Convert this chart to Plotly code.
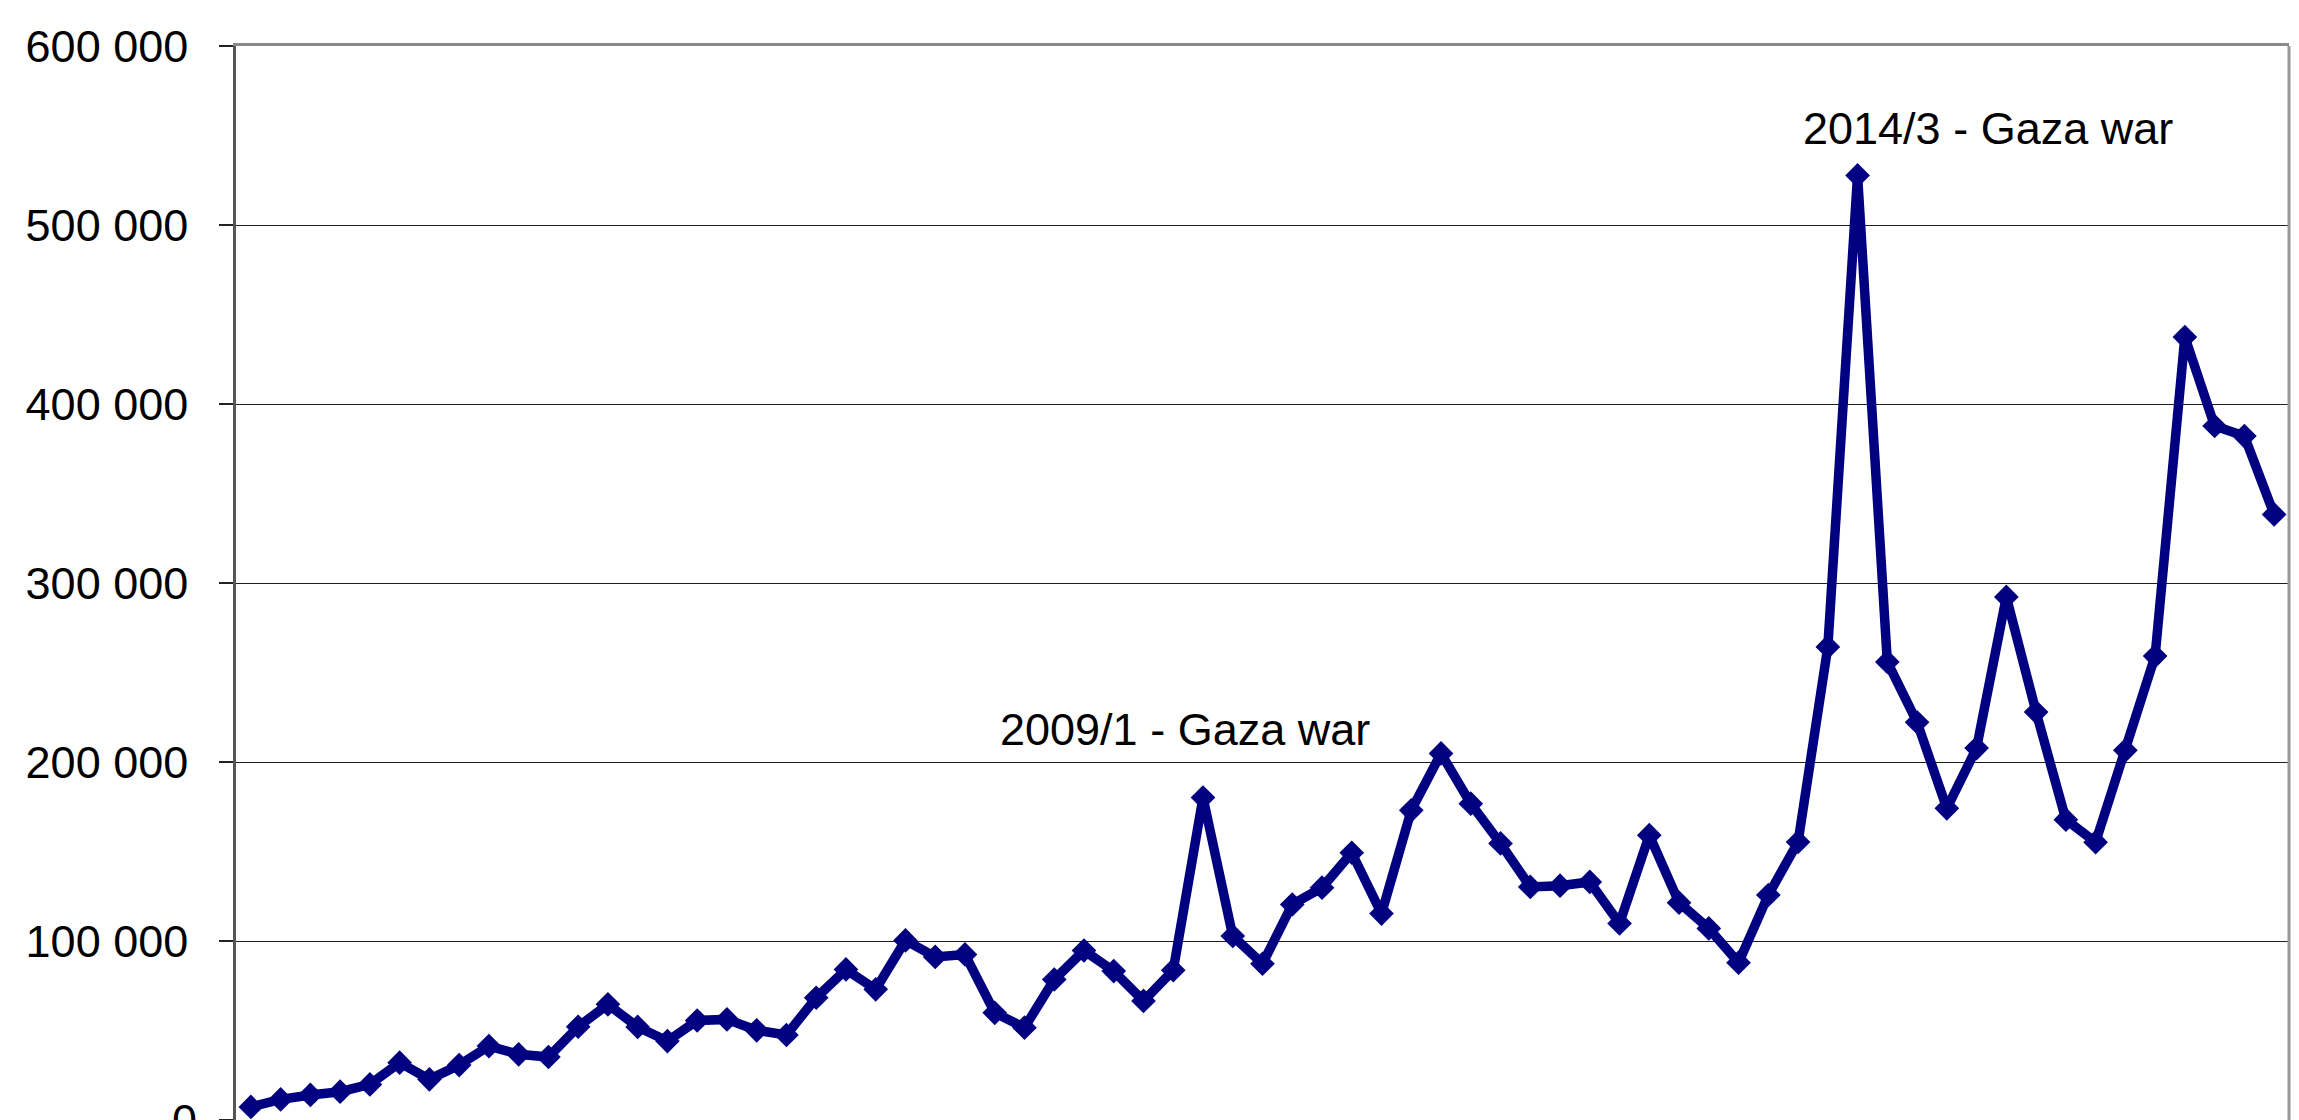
import plotly.graph_objects as go

quarters = [f"{y}/{q}" for y in range(2001, 2019) for q in range(1, 5)][:69]

values = [
    7300, 11500, 14000, 15800, 19900, 32000, 22700, 30700,
    41300, 36700, 35200, 52100, 64600, 52000, 44100, 55600,
    56200, 50100, 47500, 68300, 84100, 73000, 100300, 91100,
    92500, 59900, 51600, 78500, 94700, 83200, 66500, 83700,
    180100, 102800, 87300, 120400, 129800, 149300, 115300, 173000,
    204800, 176700, 154500, 130200, 130900, 133000, 109800, 159100,
    121400, 107000, 87900, 125700, 155300, 264300, 527700, 255900,
    222200, 174100, 207800, 292200, 227900, 167800, 155200, 206500,
    259200, 437400, 387700, 382100, 338300,
]

y_ticks = [0, 100000, 200000, 300000, 400000, 500000, 600000]
y_tick_text = ["0", "100 000", "200 000", "300 000", "400 000", "500 000", "600 000"]

notes = [
    ("2009/1 - Gaza war", 31.4, 218000),
    ("2014/3 - Gaza war", 58.4, 554000),
]

FONT = "Liberation Sans, Arial, sans-serif"
NAVY = "#000080"

fig = go.Figure()
fig.add_trace(go.Scatter(
    x=quarters, y=values, mode="lines+markers",
    line=dict(color=NAVY, width=9.5),
    marker=dict(symbol="diamond", size=19, color=NAVY),
    cliponaxis=False, showlegend=False,
))

for text, xv, yv in notes:
    fig.add_annotation(x=xv, y=yv, xref="x", yref="y", text=text,
                       showarrow=False, font=dict(size=45, color="black", family=FONT))

# bottom tick label "0" (partly cut off by the bottom edge, as in the original)
fig.add_annotation(x=0, xref="paper", y=y_ticks[0], yref="y", text=y_tick_text[0],
                   xanchor="right", yanchor="middle", xshift=-37, showarrow=False,
                   font=dict(size=45, color="black", family=FONT))

fig.add_shape(type="line", xref="paper", yref="paper", x0=1, x1=1, y0=0, y1=1,
              line=dict(color="#999999", width=3))

fig.update_layout(
    width=2299, height=1120,
    margin=dict(l=228, r=18, t=38, b=8),
    paper_bgcolor="white", plot_bgcolor="white",
    font=dict(family=FONT, size=45, color="black"),
    xaxis=dict(
        type="category", range=[-0.5, 68.5], showticklabels=False, ticks="",
        showgrid=False, showline=True, linecolor="#8a8a8a", linewidth=3, mirror=True,
        zeroline=False,
    ),
    yaxis=dict(
        range=[0, 600000], tickvals=y_ticks, ticktext=[""] + y_tick_text[1:],
        ticks="outside", ticklen=14, tickcolor="#222222", tickwidth=1.5,
        showgrid=True, gridcolor="#1e1e1e", gridwidth=1.4,
        showline=True, linecolor="#555555", linewidth=2.5,
        zeroline=False, tickfont=dict(size=45, family=FONT, color="black"),
        ticklabelstandoff=22,
    ),
)

fig.write_html("out.html")
